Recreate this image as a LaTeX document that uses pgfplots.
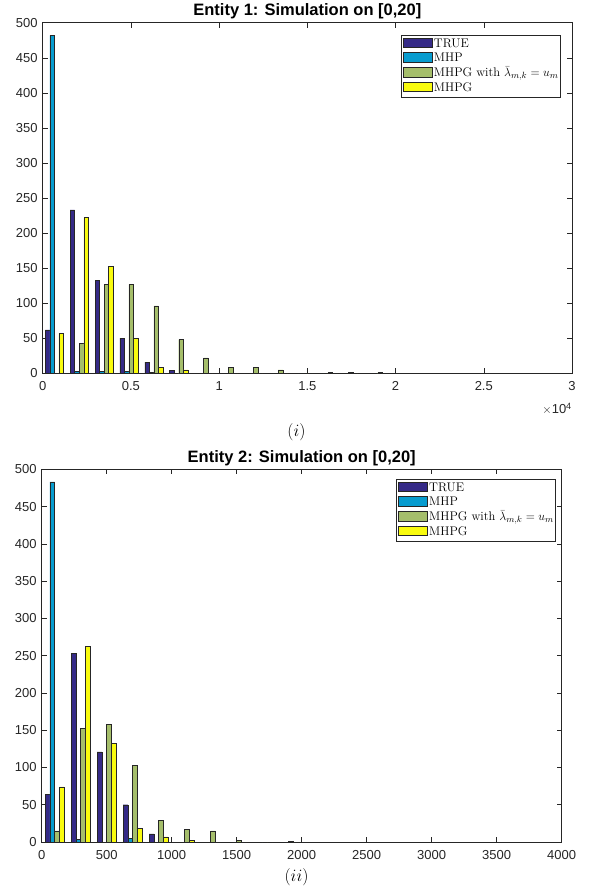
\documentclass[border=0pt]{standalone}
\usepackage{pgfplots}
\usepackage{pgfplotstable}
\pgfplotsset{compat=1.18}
\usepackage{fontspec}
\newfontfamily\hv{Liberation Sans}

% parula(4) bar colours
\definecolor{cTrue}{rgb}{0.2081,0.1663,0.5292}
\definecolor{cMHP}{rgb}{0.0265,0.6137,0.8135}
\definecolor{cMHPGu}{rgb}{0.6473,0.7456,0.4188}
\definecolor{cMHPG}{rgb}{0.9763,0.9831,0.0538}
\definecolor{axgray}{rgb}{0.15,0.15,0.15}

% histogram counts, bin centres in the first column
\pgfplotstableread{
x     true mhp mhpgu mhpg
660   62   482 0     57
2070  233  3   43    222
3480  133  3   127   153
4890  50   3   127   50
6300  16   1   96    8
7710  4    0   48    5
9120  0    0   22    0
10530 0    0   8     0
11940 0    0   8     0
13350 0    0   5     0
14760 0    0   0     0
16170 0    0   1     0
17580 0    1   0     0
18990 0    0   1     0
}\entityone

\pgfplotstableread{
x     true mhp mhpgu mhpg
100   64   483 15    74
300   253  4   152   262
500   121  0   158   132
700   50   5   103   18
900   11   0   29    7
1100  0    0   17    2
1300  0    0   15    0
1500  0    0   2     0
1700  0    0   0     0
1900  0    0   1     0
}\entitytwo

\pgfplotsset{
  histax/.style={
    scale only axis,
    ymin=0, ymax=500, ytick={0,50,...,500},
    tick align=inside, xtick pos=both, ytick pos=both,
    major tick length=5pt,
    axis line style={axgray, line width=0.5pt},
    every tick/.style={axgray, line width=0.5pt},
    tick label style={font=\hv\fontsize{13}{15}\selectfont, text=axgray},
    xticklabel style={yshift=-5pt},
    yticklabel style={xshift=-1.5pt},
    /pgf/number format/assume math mode=true,
    /pgf/number format/1000 sep={},
    scaled x ticks=false,
    title style={font=\hv\bfseries\fontsize{16.5}{18}\selectfont, anchor=base, at={(0.5,1)}, yshift=1pt},
    legend cell align=left,
    legend style={anchor=north east, draw=axgray, line width=0.5pt, fill=white,
      inner sep=1.5pt, font=\fontsize{12.5}{14}\selectfont,
      nodes={inner sep=0.5pt, text height=9.8pt, text depth=4pt},
      column sep=1.4pt, row sep=0pt},
  },
  hbar/.style={ybar, fill=#1, draw=black!85, line width=0.45pt, forget plot},
  legpatch/.style={legend image code/.code={%
    \draw[fill=#1, draw=black!85, line width=0.45pt] (0pt,-3pt) rectangle (29pt,6.3pt);}},
}

\begin{document}
\begin{tikzpicture}
\path[use as bounding box] (0,0) rectangle (590pt,-892pt);

% Entity 1
\begin{axis}[histax,
  at={(42.7pt,-373.3pt)}, anchor=south west,
  width=529.3pt, height=350.6pt,
  xmin=0, xmax=30000,
  xtick={0,5000,...,30000},
  xticklabels={0,0.5,1,1.5,2,2.5,3},
  title={Entity 1: Simulation on [0,20]},
  legend style={at={(0.9787,0.9649)}},
]
\addplot[hbar=cTrue,  bar width=257, bar shift=-385.5] table[x=x,y=true]{\entityone};
\addplot[hbar=cMHP,   bar width=257, bar shift=-128.5] table[x=x,y=mhp]{\entityone};
\addplot[hbar=cMHPGu, bar width=257, bar shift=128.5]  table[x=x,y=mhpgu]{\entityone};
\addplot[hbar=cMHPG,  bar width=257, bar shift=385.5]  table[x=x,y=mhpg]{\entityone};
\addlegendimage{legpatch=cTrue}\addlegendentry{TRUE}
\addlegendimage{legpatch=cMHP}\addlegendentry{MHP}
\addlegendimage{legpatch=cMHPGu}\addlegendentry{MHPG with $\bar{\lambda}_{m,k}=u_m$}
\addlegendimage{legpatch=cMHPG}\addlegendentry{MHPG}
\end{axis}
% scale factor of the x axis
\node[anchor=east, font=\hv\fontsize{13}{15}\selectfont, text=axgray, inner sep=0pt]
  at (572pt,-409pt) {$\times$10\textsuperscript{4}};
\node at (296.5pt,-432pt) {\fontsize{19}{22}\selectfont $(i)$};

% Entity 2
\begin{axis}[histax,
  at={(41.7pt,-842pt)}, anchor=south west,
  width=520pt, height=372.7pt,
  xmin=0, xmax=4000,
  xtick={0,500,...,4000},
  title={Entity 2: Simulation on [0,20]},
  legend style={at={(0.989,0.974)}},
]
\addplot[hbar=cTrue,  bar width=36.4, bar shift=-54.6] table[x=x,y=true]{\entitytwo};
\addplot[hbar=cMHP,   bar width=36.4, bar shift=-18.2] table[x=x,y=mhp]{\entitytwo};
\addplot[hbar=cMHPGu, bar width=36.4, bar shift=18.2]  table[x=x,y=mhpgu]{\entitytwo};
\addplot[hbar=cMHPG,  bar width=36.4, bar shift=54.6]  table[x=x,y=mhpg]{\entitytwo};
\addlegendimage{legpatch=cTrue}\addlegendentry{TRUE}
\addlegendimage{legpatch=cMHP}\addlegendentry{MHP}
\addlegendimage{legpatch=cMHPGu}\addlegendentry{MHPG with $\bar{\lambda}_{m,k}=u_m$}
\addlegendimage{legpatch=cMHPG}\addlegendentry{MHPG}
\end{axis}
\node at (296.5pt,-877pt) {\fontsize{19}{22}\selectfont $(ii)$};
\end{tikzpicture}
\end{document}
